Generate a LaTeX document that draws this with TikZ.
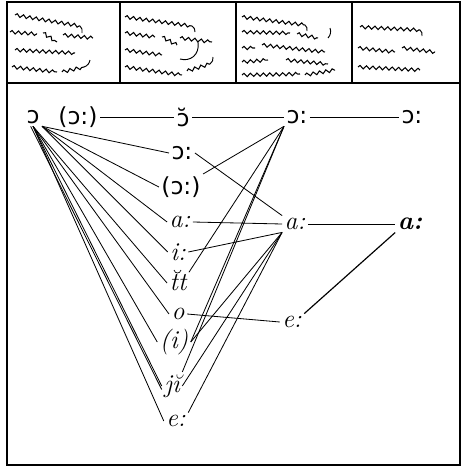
\documentclass[tikz,border=0pt]{standalone}
\usepackage{fontspec}
\newfontfamily\ipafont{DejaVu Sans}
\usetikzlibrary{positioning,decorations.pathmorphing}

\begin{document}
\begin{tikzpicture}[x=0.03cm,y=-0.03cm,
  snd/.style={font=\ipafont\fontsize{20}{20}\selectfont,inner sep=2pt},
  lat/.style={font=\fontsize{22}{22}\selectfont\itshape,inner sep=2pt},
  link/.style={line width=0.7pt},
  frame/.style={line width=1.4pt},
  hand/.style={line width=0.9pt,decorate,decoration={snake,amplitude=1.4pt,segment length=5.5pt}}]
  \useasboundingbox (0,0) rectangle (467,476);
  % frame and header cells
  \draw[frame] (7,2) rectangle (460,465);
  \draw[line width=1pt] (7,83) -- (460,83);
  \foreach \x in {120,236,352} \draw[line width=1pt] (\x,2) -- (\x,83);
  % handwriting in the header
  \draw[hand] (15,15) -- (80,26);  \draw[line width=0.8pt] (80,26) to[bend left] (82,33);
  \draw[hand] (10,32) -- (37,34);  \draw[hand] (43,33) -- (57,42);  \draw[hand] (63,35) -- (93,38);
  \draw[hand] (15,50) -- (75,53);
  \draw[hand] (12,67) -- (57,72);  \draw[hand] (62,72) -- (84,67); \draw[line width=0.8pt] (84,67) to[bend right] (90,60);
  \draw[hand] (125,17) -- (192,26); \draw[line width=0.8pt] (192,26) to[bend left] (195,32);
  \draw[hand] (125,33) -- (155,37); \draw[hand] (162,37) -- (177,45); \draw[hand] (180,38) -- (212,42);
  \draw[line width=0.8pt] (198,42) .. controls (200,55) and (190,62) .. (180,59);
  \draw[hand] (125,50) -- (162,55);
  \draw[hand] (125,67) -- (182,75); \draw[hand] (187,71) -- (210,64); \draw[line width=0.8pt] (210,64) to[bend right] (213,57);
  \draw[hand] (242,17) -- (305,25); \draw[line width=0.8pt] (305,25) to[bend left] (307,31);
  \draw[hand] (242,32) -- (290,33); \draw[hand] (297,34) -- (318,38); \draw[line width=0.8pt] (330,28) to[bend left] (328,38);
  \draw[hand] (242,48) -- (255,48); \draw[hand] (262,45) -- (325,52);
  \draw[hand] (242,62) -- (268,60); \draw[hand] (286,60) -- (328,64);
  \draw[hand] (242,75) -- (300,74); \draw[hand] (305,75) -- (335,70);
  \draw[hand] (360,27) -- (420,30); \draw[line width=0.8pt] (420,30) to[bend left] (422,36);
  \draw[hand] (358,48) -- (395,52); \draw[hand] (402,48) -- (435,52);
  \draw[hand] (358,67) -- (420,70);
  % sounds
  \node[snd] (oo) at (33,117) {ɔ};
  \node[snd] (lp) at (78,117) {(ɔ:)};
  \node[snd] (ob) at (183,117) {ɔ̆};
  \node[snd] (oc) at (297,117) {ɔ:};
  \node[snd] (oR) at (412,117) {ɔ:};
  \node[snd] (om) at (182,153) {ɔ:};
  \node[snd] (lo) at (181,187) {(ɔ:)};
  \node[lat] (al) at (180,222) {a:};
  \node[lat] (ii) at (178,252) {i:};
  \node[lat] (tt) at (178,283) {tt};
  \draw[line width=0.6pt] (174,270) .. controls (175,274) and (180,274) .. (181,270);
  \node[lat] (oi) at (178,314) {o};
  \node[lat] (pi) at (174,342) {(i)};
  \node[lat] (ji) at (172,386) {jĭ};
  \node[lat] (eb) at (176,421) {e:};
  \node[lat] (am) at (295,224) {a:};
  \node[lat,font=\fontsize{22}{22}\selectfont\bfseries\itshape] (aR) at (410,224) {a:};
  \node[lat] (er) at (292,322) {e:};
  % top row
  \draw[link] (lp.east) -- (ob.west);
  \draw[link] (ob.east) -- (oc.west);
  \draw[link] (oc.east) -- (oR.west);
  % fan from the first sound
  \foreach \t in {om,lo,al,ii} \draw[link] (oo.south east) -- (\t.west);
  \foreach \t in {tt,oi,pi,ji,eb} \draw[link] (oo.south) -- (\t.west);
  \draw[link] ([xshift=-2pt]oo.south) -- ([yshift=-3pt]ji.west);
  % links to the right columns
  \foreach \t in {lo.north east,tt.north east,pi.east,ji.north east} \draw[link] (oc.south west) -- (\t);
  \draw[link] (om.east) -- (am.north west);
  \draw[link] (al.east) -- (am.west);
  \draw[link] (ii.east) -- (am.south west);
  \foreach \t in {pi.east,ji.east,eb.north east} \draw[link] (am.south west) -- (\t);
  \draw[link] (am.east) -- (aR.west);
  \draw[line width=1pt] (aR.south west) -- (er.north east);
  \draw[link] (oi.east) -- (er.west);
\end{tikzpicture}
\end{document}
